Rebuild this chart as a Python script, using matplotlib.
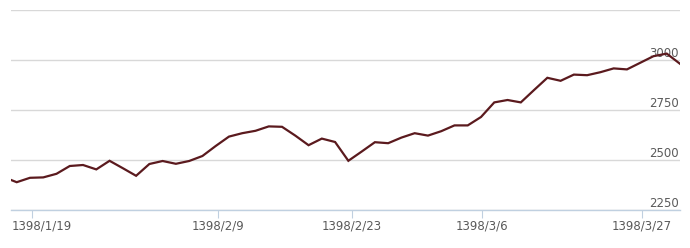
import matplotlib
matplotlib.use('Agg')
import matplotlib.pyplot as plt
import matplotlib.transforms as mtransforms

plt.rcParams['font.family'] = ['Liberation Sans Narrow', 'DejaVu Sans']

# daily index values, one per trading day (first one is clipped by the left edge)
values = [
    2415, 2389, 2411, 2413, 2431, 2470, 2475, 2453, 2496, 2459,
    2421, 2480, 2495, 2481, 2495, 2520, 2570, 2617, 2634, 2646,
    2668, 2666, 2622, 2574, 2607, 2590, 2496, 2542, 2589, 2584,
    2612, 2634, 2622, 2644, 2673, 2673, 2715, 2788, 2800, 2788,
    2850, 2911, 2896, 2927, 2924, 2939, 2958, 2953, 2986, 3019,
    3032, 2981,
]
days = list(range(-1, len(values) - 1))

date_labels = ['1398/1/19', '1398/2/9', '1398/2/23', '1398/3/6', '1398/3/27']
date_pos = [1.15, 15.19, 25.29, 35.04, 47.1]

grid_values = [2250, 2500, 2750, 3000, 3250]
y_labels = [2250, 2500, 2750, 3000]

line_color = '#5b1a1e'
text_color = '#5a5a5a'

fig = plt.figure(figsize=(6.9, 2.48), dpi=100)
ax = fig.add_axes([11 / 690, 38 / 248, 669 / 690, 200 / 248])

ax.plot(days, values, color=line_color, lw=1.6, zorder=3,
        solid_joinstyle='miter')

ax.set_xlim(-0.43, 50.0)
ax.set_ylim(2250, 3250)

ax.set_yticks(grid_values)
ax.yaxis.grid(True, color='#d8d8d8', lw=1)
ax.tick_params(axis='y', length=0, labelleft=False)
ax.set_axisbelow(True)

for spine in ['left', 'right', 'top']:
    ax.spines[spine].set_visible(False)
ax.spines['bottom'].set_color('#c0d0e0')
ax.spines['bottom'].set_linewidth(1)

ax.set_xticks(date_pos)
ax.set_xticklabels(date_labels)
ax.tick_params(axis='x', length=5.8, width=0.8, color='#c0d0e0', pad=1.3,
               labelsize=8.5, labelcolor=text_color)

# first label is pushed right so it stays inside the plot
first = ax.get_xticklabels()[0]
first.set_horizontalalignment('left')
first.set_transform(first.get_transform() +
                    mtransforms.ScaledTranslation(-20.5 / 100, 0, fig.dpi_scale_trans))

trans = mtransforms.blended_transform_factory(ax.transAxes, ax.transData)
for v in y_labels:
    ax.annotate(str(v), xy=(1, v), xycoords=trans, xytext=(-0.7, 4.4),
                textcoords='offset points', ha='right', va='center',
                fontsize=8.5, color=text_color, zorder=1)

fig.savefig('out.png', dpi=100)
